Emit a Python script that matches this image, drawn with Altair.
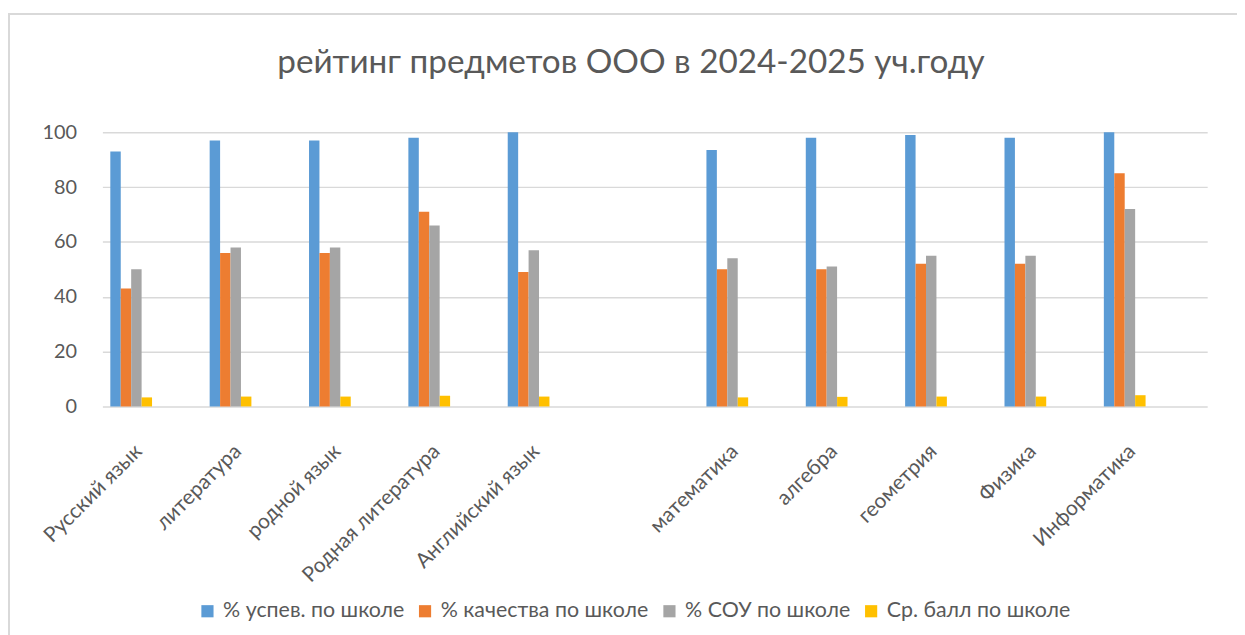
import altair as alt
import pandas as pd

categories = ["Русский язык", "литература", "родной  язык", "Родная литература",
              "Английский язык", " ", "математика", "алгебра", "геометрия",
              "Физика", "Информатика"]
subjects = ["Русский язык", "литература", "родной  язык", "Родная литература",
            "Английский язык", "математика", "алгебра", "геометрия",
            "Физика", "Информатика"]
series = ["% успев. по школе", "% качества по школе", "% СОУ по школе", "Ср. балл по школе"]
uspev = [93, 97, 97, 98, 100, 93.5, 98, 99, 98, 100]
kachestvo = [43, 56, 56, 71, 49, 50, 50, 52, 52, 85]
sou = [50, 58, 58, 66, 57, 54, 51, 55, 55, 72]
ball = [3.3, 3.6, 3.6, 3.9, 3.6, 3.3, 3.5, 3.6, 3.6, 4.1]
colors = ["#5b9bd5", "#ed7d31", "#a5a5a5", "#ffc000"]

rows = []
for i, s in enumerate(subjects):
    for name, vals in zip(series, [uspev, kachestvo, sou, ball]):
        rows.append({"subject": s, "series": name, "value": vals[i]})
df = pd.DataFrame(rows)

FONT = "Lato"
GREY = "#595959"

bars = alt.Chart(df).mark_bar().encode(
    x=alt.X("subject:N", sort=categories,
            scale=alt.Scale(domain=categories, paddingInner=0.58, paddingOuter=0.35, align=0.114),
            axis=alt.Axis(title=None, labelAngle=-45, labelFontSize=21, labelColor=GREY,
                          labelFont=FONT, ticks=False, domain=False, labelPadding=34,
                          labelOffset=0, labelLimit=300)),
    xOffset=alt.XOffset("series:N", sort=series, scale=alt.Scale(paddingInner=0, paddingOuter=0)),
    y=alt.Y("value:Q", scale=alt.Scale(domain=[0, 100]),
            axis=alt.Axis(title=None, values=[0, 20, 40, 60, 80, 100], labelFontSize=20,
                          labelColor=GREY, labelFont=FONT, ticks=False, domain=False,
                          labelPadding=26, gridColor="#d9d9d9", gridWidth=1.5)),
    color=alt.Color("series:N", sort=series,
                    scale=alt.Scale(domain=series, range=colors),
                    legend=alt.Legend(title=None, orient="none", direction="horizontal",
                                      legendX=95, legendY=471, symbolType="square",
                                      symbolSize=150, symbolStrokeWidth=0,
                                      labelFontSize=21.5, labelColor=GREY, labelFont=FONT,
                                      columnPadding=10, labelOffset=5, labelLimit=400)),
)

frame_df = pd.DataFrame({"k": [0]})
top_line = alt.Chart(frame_df).mark_rule(color="#d9d9d9", strokeWidth=2).encode(
    x=alt.value(-95), x2=alt.value(1150), y=alt.value(-119))
left_line = alt.Chart(frame_df).mark_rule(color="#d9d9d9", strokeWidth=2).encode(
    x=alt.value(-94), y=alt.value(-119), y2=alt.value(520))

chart = alt.layer(bars, top_line, left_line).properties(
    width=1112, height=276,
    title=alt.Title("рейтинг предметов ООО в 2024-2025 уч.году", fontSize=33.5,
                    font=FONT, fontWeight="normal", color=GREY, offset=-68, dx=-24,
                    frame="group", anchor="middle"),
    padding={"left": 95, "top": 123, "right": 30, "bottom": 228},
    autosize=alt.AutoSizeParams(type="none"),
).configure_view(stroke=None)

chart.save("out.html", embed_options={"renderer": "svg", "actions": False})
